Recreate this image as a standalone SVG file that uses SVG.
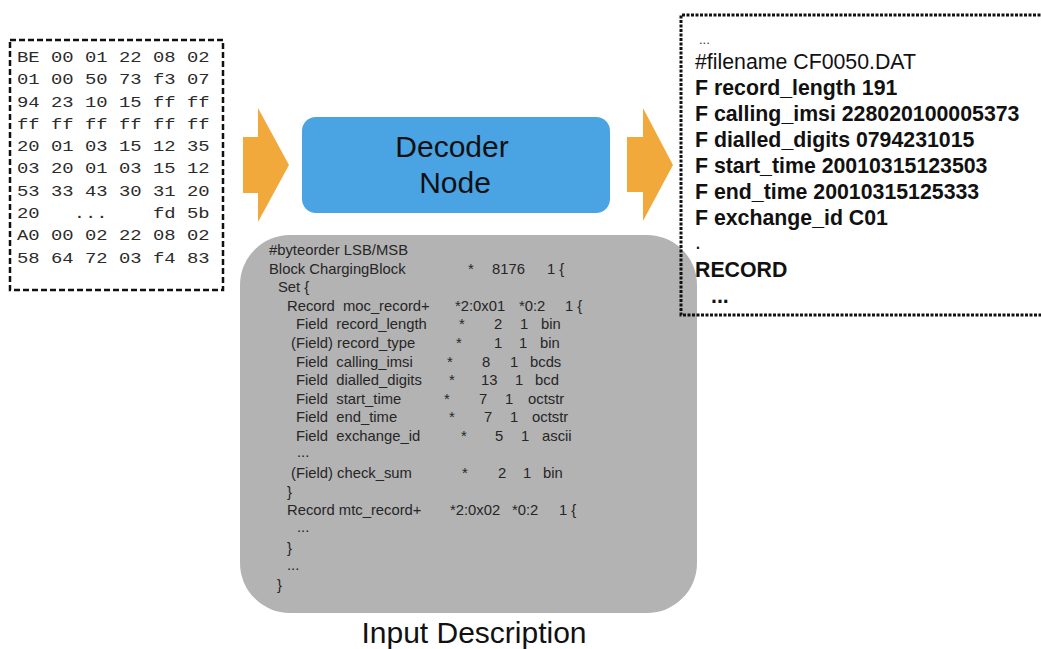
<svg xmlns="http://www.w3.org/2000/svg" width="1041" height="649" viewBox="0 0 1041 649">
<style>
.hex{font-family:"Liberation Mono","DejaVu Sans Mono",monospace;font-size:15px;fill:#2b2b2b}
.d{font-family:"Liberation Sans",Arial,sans-serif;font-size:14.8px;fill:#262626;white-space:pre}
.o{font-family:"Liberation Sans",Arial,sans-serif;font-size:21.3px;fill:#111}
.b{font-weight:bold}
.arrow{fill:#f2a93b}
</style>
<rect width="1041" height="649" fill="#fff"/>
<g id="hex-dump">
<rect x="10" y="40" width="213" height="250" fill="none" stroke="#111" stroke-width="2.5" stroke-dasharray="6 3"/>
<g transform="translate(17,0) scale(1.26,1)" class="hex">
<text x="0" y="62">BE 00 01 22 08 02</text>
<text x="0" y="84.3">01 00 50 73 f3 07</text>
<text x="0" y="106.6">94 23 10 15 ff ff</text>
<text x="0" y="128.9">ff ff ff ff ff ff</text>
<text x="0" y="151.2">20 01 03 15 12 35</text>
<text x="0" y="173.5">03 20 01 03 15 12</text>
<text x="0" y="195.8">53 33 43 30 31 20</text>
<text x="0" y="218.1" xml:space="preserve">20   ...    fd 5b</text>
<text x="0" y="240.4">A0 00 02 22 08 02</text>
<text x="0" y="262.7">58 64 72 03 f4 83</text>
</g>
</g>
<g id="connectors">
<polygon class="arrow" points="243,137 258,137 258,108 289,165 258,222 258,193 243,193"/>
<polygon class="arrow" points="627,137 643,137 643,108 673,165 643,221 643,192 627,192"/>
</g>
<g id="decoder-node">
<rect x="302" y="117" width="308" height="96" rx="14" fill="#4aa3e3"/>
<text x="452" y="157" text-anchor="middle" font-family="Liberation Sans, Arial, sans-serif" font-size="30" fill="#111">Decoder</text>
<text x="455" y="193" text-anchor="middle" font-family="Liberation Sans, Arial, sans-serif" font-size="30" fill="#111">Node</text>
</g>
<g id="input-description" xml:space="preserve">
<rect x="240" y="235" width="457" height="378" rx="50" fill="#b3b3b3"/>
<text class="d" x="269" y="255">#byteorder LSB/MSB</text>
<text class="d" y="273.6"><tspan x="269">Block ChargingBlock</tspan><tspan x="468">*</tspan><tspan x="492">8176</tspan><tspan x="547">1 {</tspan></text>
<text class="d" x="278" y="292.2">Set {</text>
<text class="d" y="310.8"><tspan x="287">Record  moc_record+</tspan><tspan x="455">*2:0x01</tspan><tspan x="519">*0:2</tspan><tspan x="565">1 {</tspan></text>
<text class="d" y="329.4"><tspan x="296">Field  record_length</tspan><tspan x="459">*</tspan><tspan x="494">2</tspan><tspan x="520">1</tspan><tspan x="541">bin</tspan></text>
<text class="d" y="348"><tspan x="291">(Field) record_type</tspan><tspan x="456">*</tspan><tspan x="494">1</tspan><tspan x="519">1</tspan><tspan x="540">bin</tspan></text>
<text class="d" y="366.6"><tspan x="296">Field  calling_imsi</tspan><tspan x="447">*</tspan><tspan x="482">8</tspan><tspan x="510">1</tspan><tspan x="530">bcds</tspan></text>
<text class="d" y="385.2"><tspan x="296">Field  dialled_digits</tspan><tspan x="449">*</tspan><tspan x="481">13</tspan><tspan x="515">1</tspan><tspan x="535">bcd</tspan></text>
<text class="d" y="403.8"><tspan x="296">Field  start_time</tspan><tspan x="444">*</tspan><tspan x="479">7</tspan><tspan x="505">1</tspan><tspan x="528">octstr</tspan></text>
<text class="d" y="422.4"><tspan x="296">Field  end_time</tspan><tspan x="449">*</tspan><tspan x="484">7</tspan><tspan x="510">1</tspan><tspan x="532">octstr</tspan></text>
<text class="d" y="441"><tspan x="296">Field  exchange_id</tspan><tspan x="461">*</tspan><tspan x="495">5</tspan><tspan x="521">1</tspan><tspan x="542">ascii</tspan></text>
<text class="d" x="297" y="457">...</text>
<text class="d" y="478.2"><tspan x="291">(Field) check_sum</tspan><tspan x="462">*</tspan><tspan x="498">2</tspan><tspan x="523">1</tspan><tspan x="543">bin</tspan></text>
<text class="d" x="287" y="496.8">}</text>
<text class="d" y="515.4"><tspan x="287">Record mtc_record+</tspan><tspan x="450">*2:0x02</tspan><tspan x="512">*0:2</tspan><tspan x="559">1 {</tspan></text>
<text class="d" x="297" y="532">...</text>
<text class="d" x="287" y="552.6">}</text>
<text class="d" x="287" y="570">...</text>
<text class="d" x="277" y="589.8">}</text>
<text x="474" y="643" text-anchor="middle" font-family="Liberation Sans, Arial, sans-serif" font-size="30" fill="#111">Input Description</text>
</g>
<g id="output-record">
<path d="M1045 15 H681 V315 H1045" fill="none" stroke="#111" stroke-width="3" stroke-dasharray="3 1.5"/>
<text x="699" y="44" font-family="Liberation Sans, Arial, sans-serif" font-size="13" fill="#333">...</text>
<text class="o" x="695" y="69">#filename CF0050.DAT</text>
<text class="o b" x="695" y="95">F record_length 191</text>
<text class="o b" x="695" y="121">F calling_imsi 228020100005373</text>
<text class="o b" x="695" y="147">F dialled_digits 0794231015</text>
<text class="o b" x="695" y="173">F start_time 20010315123503</text>
<text class="o b" x="695" y="199">F end_time 20010315125333</text>
<text class="o b" x="695" y="225">F exchange_id C01</text>
<text class="o" x="695" y="249" font-size="14">.</text>
<text class="o b" x="695" y="277">RECORD</text>
<text class="o b" x="711" y="303" font-size="16">...</text>
</g>
</svg>
